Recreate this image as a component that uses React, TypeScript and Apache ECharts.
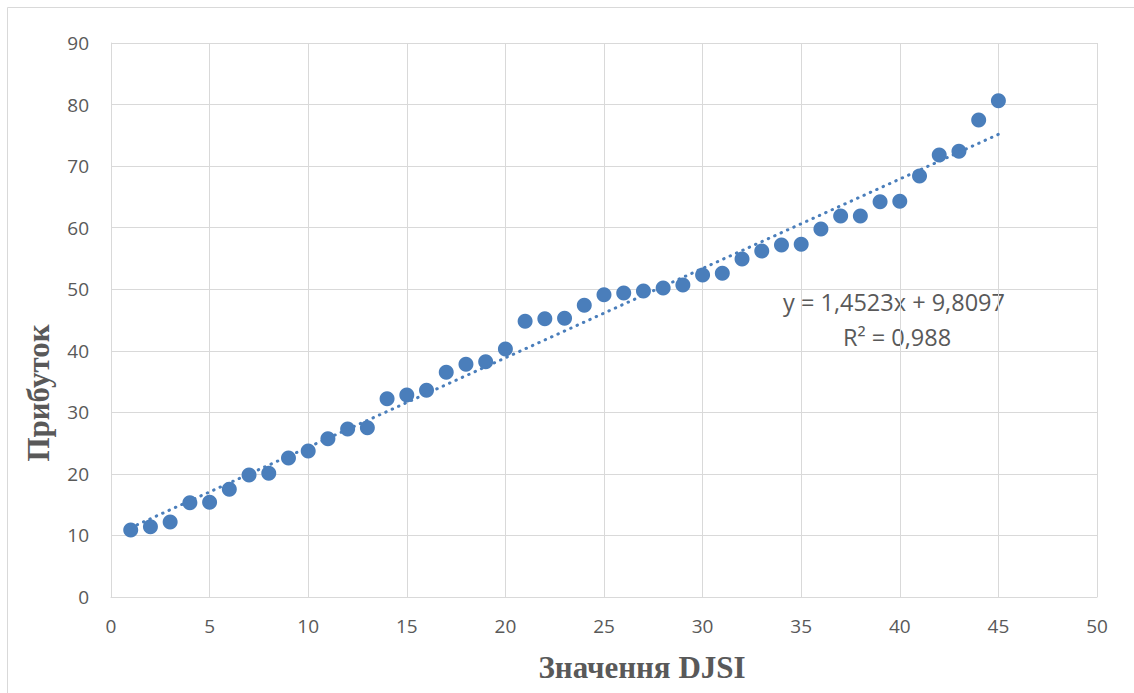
import React, { useEffect, useRef } from "react";
import * as echarts from "echarts";

const djsi = [1,2,3,4,5,6,7,8,9,10,11,12,13,14,15,16,17,18,19,20,21,22,23,24,25,26,27,28,29,30,31,32,33,34,35,36,37,38,39,40,41,42,43,44,45];
const profit = [10.9,11.4,12.2,15.3,15.4,17.5,19.8,20.1,22.6,23.7,25.7,27.3,27.5,32.2,32.8,33.6,36.5,37.8,38.2,40.3,44.8,45.2,45.3,47.4,49.1,49.4,49.7,50.2,50.7,52.3,52.6,54.9,56.2,57.2,57.3,59.8,61.9,61.9,64.2,64.3,68.4,71.8,72.4,77.5,80.6];
const trendSlope = 1.4523;
const trendIntercept = 9.8097;
const trendLabel = "y = 1,4523x + 9,8097";
const r2Label = "R² = 0,988";
const xTitle = "Значення DJSI";
const yTitle = "Прибуток";

export default function App() {
  const ref = useRef<HTMLDivElement>(null);
  useEffect(() => {
    const chart = echarts.init(ref.current!, null, { renderer: "svg" });
    const xs = [djsi[0], djsi[djsi.length - 1]];
    const trend = xs.map((x) => [x, trendSlope * x + trendIntercept]);
    const blue = "#4a7ebb";
    const titleStyle = { fill: "#595959", fontSize: 31, fontWeight: "bold", fontFamily: "Liberation Serif", textAlign: "center", textVerticalAlign: "middle" };
    chart.setOption({
      animation: false,
      backgroundColor: "#ffffff",
      grid: { left: 111, right: 37, top: 43, bottom: 96 },
      xAxis: {
        type: "value",
        min: 0,
        max: 50,
        interval: 5,
        axisLine: { show: true, lineStyle: { color: "#d9d9d9", width: 1 } },
        axisTick: { show: false },
        splitLine: { show: true, lineStyle: { color: "#d9d9d9", width: 1 } },
        axisLabel: { color: "#595959", fontSize: 19, fontFamily: "Open Sans", margin: 19 },
      },
      yAxis: {
        type: "value",
        min: 0,
        max: 90,
        interval: 10,
        axisLine: { show: true, lineStyle: { color: "#d9d9d9", width: 1 } },
        axisTick: { show: false },
        splitLine: { show: true, lineStyle: { color: "#d9d9d9", width: 1 } },
        axisLabel: { color: "#595959", fontSize: 19, fontFamily: "Open Sans", margin: 22 },
      },
      series: [
        {
          type: "line",
          data: trend,
          showSymbol: false,
          symbol: "none",
          lineStyle: { color: blue, width: 3, type: [0.5, 6.5], cap: "round" },
          z: 3,
          silent: true,
        },
        {
          type: "scatter",
          data: djsi.map((x, i) => [x, profit[i]]),
          symbol: "circle",
          symbolSize: 15,
          itemStyle: { color: blue, opacity: 1 },
          z: 2,
        },
      ],
      graphic: [
        {
          type: "rect",
          shape: { x: 7.5, y: 7.5, width: 1140, height: 700 },
          style: { fill: "none", stroke: "#d9d9d9", lineWidth: 1 },
          silent: true,
        },
        {
          type: "text",
          x: 642,
          y: 667,
          style: { text: xTitle, ...titleStyle },
        },
        {
          type: "text",
          x: 38,
          y: 393,
          rotation: Math.PI / 2,
          style: { text: yTitle, ...titleStyle },
        },
        {
          type: "text",
          x: 894,
          y: 302,
          style: { text: trendLabel, fill: "#595959", fontSize: 23.5, fontFamily: "Open Sans", textAlign: "center", textVerticalAlign: "middle" },
        },
        {
          type: "text",
          x: 897,
          y: 337,
          style: { text: r2Label, fill: "#595959", fontSize: 23.5, fontFamily: "Open Sans", textAlign: "center", textVerticalAlign: "middle" },
        },
      ],
    });
    return () => chart.dispose();
  }, []);
  return <div ref={ref} style={{ position: "absolute", left: 0, top: 0, width: 1134, height: 693 }} />;
}
